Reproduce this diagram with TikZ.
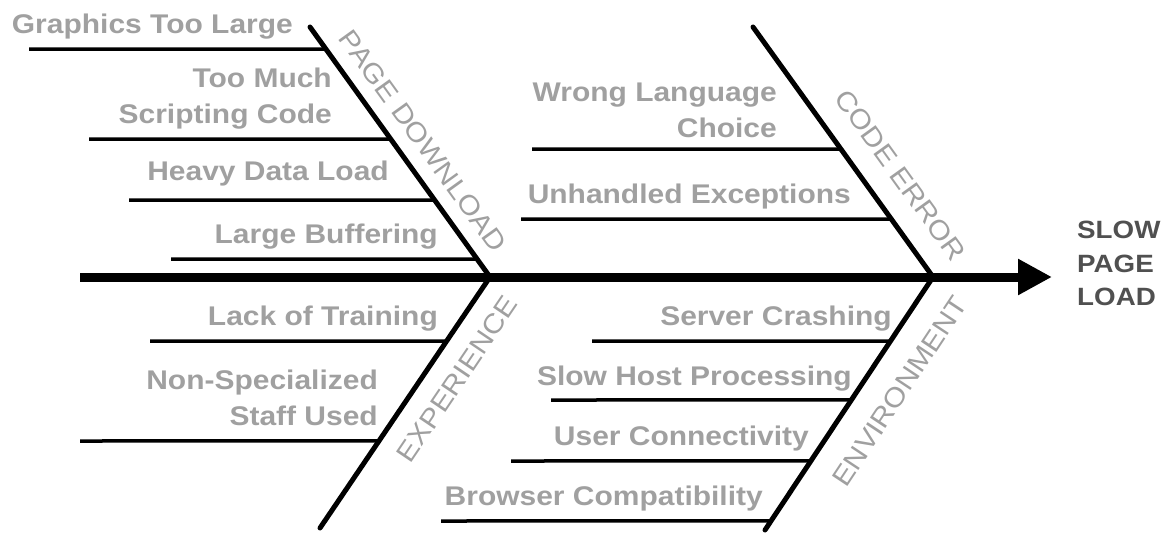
\documentclass[tikz,border=0pt]{standalone}
\usepackage{fontspec}
\setmainfont{Liberation Sans}
\newfontfamily\diagfont[FakeStretch=1.11]{Liberation Sans}
\usetikzlibrary{arrows.meta,calc}
\definecolor{causegray}{RGB}{160,160,160}
\definecolor{effectgray}{RGB}{80,80,80}
\begin{document}
\begin{tikzpicture}[x=1pt,y=-1pt,
  spine/.style={line width=9pt},
  bone/.style={line width=5pt, line cap=round},
  rib/.style={line width=3.5pt},
  cause/.style={font=\diagfont\fontsize{27}{36.5}\selectfont\bfseries,
    text=causegray, inner sep=0pt, align=right},
  category/.style={font=\diagfont\fontsize{27}{32}\selectfont,
    text=causegray, inner sep=0pt, sloped},
  effect/.style={font=\diagfont\fontsize{25}{33.5}\selectfont\bfseries,
    text=effectgray, inner sep=0pt, align=left}]
\useasboundingbox (0,0) rectangle (1172,533);

% spine and joints
\coordinate (tail) at (80,277);
\coordinate (head) at (1052,277);
\coordinate (j1) at (490,277);
\coordinate (j2) at (933,277);
% free ends of the four bones
\coordinate (pd) at (310,27);
\coordinate (ex) at (320,528);
\coordinate (ce) at (753,27);
\coordinate (en) at (765,530);

\draw[spine, -{Triangle[length=34pt,width=34pt]}] (tail) -- (head);
\node[effect, anchor=west] (effect) at (1077,263.5) {SLOW\\PAGE\\LOAD};

% bones with their category labels
\draw[bone] (pd) -- node[category, pos=0.515, above=13pt] (pdlabel) {PAGE DOWNLOAD} (j1);
\draw[bone] (ce) -- node[category, pos=0.67, above=21pt] (celabel) {CODE ERROR} (j2);
\draw[bone] (ex) -- node[category, pos=0.66, below=18pt] (exlabel) {EXPERIENCE} (j1);
\draw[bone] (en) -- node[category, pos=0.626, below=23.5pt] (enlabel) {ENVIRONMENT} (j2);

% points where the ribs meet the bones
\path (pd) -- (j1) coordinate[pos=0.088] (pd1) coordinate[pos=0.448] (pd2)
                   coordinate[pos=0.692] (pd3) coordinate[pos=0.928] (pd4);
\path (ce) -- (j2) coordinate[pos=0.488] (ce1) coordinate[pos=0.768] (ce2);
\path (j1) -- (ex) coordinate[pos=0.255] (ex1) coordinate[pos=0.653] (ex2);
\path (j2) -- (en) coordinate[pos=0.253] (en1) coordinate[pos=0.486] (en2)
                   coordinate[pos=0.727] (en3) coordinate[pos=0.964] (en4);

% outer ends of the ribs
\coordinate (pd1s) at (29,49);
\coordinate (pd2s) at (89,139);
\coordinate (pd3s) at (129,200);
\coordinate (pd4s) at (171,259);
\coordinate (ce1s) at (532,149);
\coordinate (ce2s) at (521,219);
\coordinate (ex1s) at (150,341);
\coordinate (ex2s) at (80,441);
\coordinate (en1s) at (592,341);
\coordinate (en2s) at (551,400);
\coordinate (en3s) at (511,461);
\coordinate (en4s) at (441,521);

\foreach \r in {pd1,pd2,pd3,pd4,ce1,ce2,ex1,ex2,en1,en2,en3,en4}
  \draw[rib] (\r s) -- (\r);

% causes
\node[cause, anchor=base east] (c1) at (293,33) {Graphics Too Large};
\node[cause, anchor=north east] (c2) at (332,67.7) {Too Much\\Scripting Code};
\node[cause, anchor=base east] (c3) at (389,180) {Heavy Data Load};
\node[cause, anchor=base east] (c4) at (438,243) {Large Buffering};
\node[cause, anchor=north east] (c7) at (777,82.7) {Wrong Language\\Choice};
\node[cause, anchor=base east] (c8) at (851,203) {Unhandled Exceptions};
\node[cause, anchor=base east] (c5) at (438,325) {Lack of Training};
\node[cause, anchor=north east] (c6) at (378,369.7) {Non-Specialized\\Staff Used};
\node[cause, anchor=base east] (c9) at (892,325) {Server Crashing};
\node[cause, anchor=base east] (c10) at (852,385) {Slow Host Processing};
\node[cause, anchor=base east] (c11) at (809,445) {User Connectivity};
\node[cause, anchor=base east] (c12) at (763,505) {Browser Compatibility};
\end{tikzpicture}
\end{document}
